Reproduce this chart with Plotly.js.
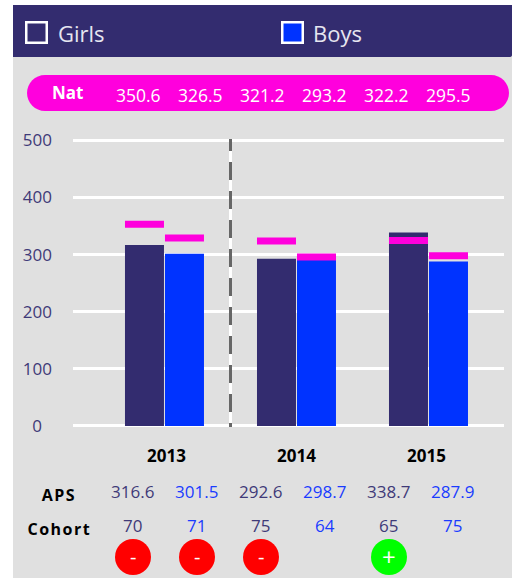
<!DOCTYPE html>
<html><head><meta charset="utf-8">
<script src="https://cdn.plot.ly/plotly-3.0.1.min.js"></script>
<style>html,body{margin:0;padding:0;background:#fff}#c{width:512px;height:579px}</style>
</head><body><div id="c"></div>
<script>
const years = ['2013','2014','2015'];
const girlsAPS = [316.6, 292.6, 338.7];
const boysAPS = [301.5, 298.7, 287.9];
const girlsNat = [350.6, 321.2, 322.2];
const boysNat = [326.5, 293.2, 295.5];
const natLabels = ['350.6','326.5','321.2','293.2','322.2','295.5'];
const apsLabels = ['316.6','301.5','292.6','298.7','338.7','287.9'];
const cohortLabels = ['70','71','75','64','65','75'];
const signs = ['-','-','-','','+',''];
const yTicks = [0,100,200,300,400,500];

const W=512,H=579;
const px=x=>x/W, py=y=>1-y/H;
const NAVY='#332c6f', BLUE='#0033ff', MAG='#ff00dd', BG='#e0e0e0';
const TXTN='#3f3a78', TXTB='#1a3cff';
const FONT='"Open Sans", "Noto Sans", sans-serif';
const NAT_THICK=12.3, NAT_SHIFT=2.5;

const bar=(name,y,color,group)=>({type:'bar',name,x:years,y,offsetgroup:group,marker:{color,line:{width:0}},hoverinfo:'skip'});
const nat=(name,vals,group)=>({type:'bar',name,x:years,y:vals.map(()=>NAT_THICK),
  base:vals.map(v=>v+NAT_SHIFT-NAT_THICK/2),offsetgroup:group,marker:{color:MAG,line:{width:0}},hoverinfo:'skip'});
const data=[bar('Girls',girlsAPS,NAVY,'g'),bar('Boys',boysAPS,BLUE,'b'),nat('Nat girls',girlsNat,'g'),nat('Nat boys',boysNat,'b')];

const rect=(x0,y0,x1,y1,fill,line,lw)=>({type:'rect',xref:'paper',yref:'paper',x0:px(x0),x1:px(x1),y0:py(y0),y1:py(y1),
  fillcolor:fill,line:{color:line||fill,width:lw||0},layer:'below'});
const P=(x,y)=>`${px(x)},${py(y)}`;
const pill=(x0,y0,x1,y1)=>{const r=(y1-y0)/2;return {type:'path',xref:'paper',yref:'paper',layer:'below',fillcolor:MAG,line:{width:0},
  path:`M${P(x0+r,y0)} L${P(x1-r,y0)} C${P(x1-r*.45,y0)} ${P(x1,y0+r*.45)} ${P(x1,y0+r)} C${P(x1,y1-r*.45)} ${P(x1-r*.45,y1)} ${P(x1-r,y1)} L${P(x0+r,y1)} C${P(x0+r*.45,y1)} ${P(x0,y1-r*.45)} ${P(x0,y1-r)} C${P(x0,y0+r*.45)} ${P(x0+r*.45,y0)} ${P(x0+r,y0)} Z`}};
const header={type:'path',xref:'paper',yref:'paper',layer:'below',fillcolor:NAVY,line:{width:0},
  path:`M${P(13,5)} L${P(512,5)} L${P(512,55)} Q${P(512,57)} ${P(509,57)} L${P(13,57)} Z`};
const vline=(color,dash)=>({type:'line',xref:'paper',yref:'paper',x0:px(230.5),x1:px(230.5),y0:py(139),y1:py(427),
  line:{color,width:3,dash},layer:'above'});
const circle=(cx,cy,r,fill)=>({type:'circle',xref:'paper',yref:'paper',x0:px(cx-r),x1:px(cx+r),y0:py(cy-r),y1:py(cy+r),fillcolor:fill,line:{width:0},layer:'above'});

const shapes=[rect(13,5,512,578,BG),header,pill(27,75,509,111),
  rect(26.25,22.25,46.75,42.75,NAVY,'#fff',2.5),rect(282.25,22.25,302.75,42.75,BLUE,'#fff',2.5),
  vline('#fff','solid'),vline('#666','12px,11px,'+'18px,11px,'.repeat(9)+'18px,400px')];

const note=(text,x,y,size,color,bold,anchor)=>({text,xref:'paper',yref:'paper',x:px(x),y:py(y),xanchor:anchor||'center',yanchor:'middle',
  showarrow:false,font:{family:FONT,size,color,weight:bold?700:400}});
const anns=[
  note('Girls',56,33,22,'#e6e6f0',false,'left'),
  note('Boys',311,33,22,'#e6e6f0',false,'left'),
  note('Nat',67,92.5,17,'#fff',true),
  note('APS',59,495,16,'#000',true),
  note('Cohort',59,529,16,'#000',true)
];
const yearX=[166,296,426];
years.forEach((t,i)=>anns.push(note(t,yearX[i],455,17,'#000',true)));
natLabels.forEach((t,i)=>anns.push(note(t,138+62*i,95,17.5,'#fff')));
apsLabels.forEach((t,i)=>anns.push(note(t,132.5+64*i,491,17,i%2?TXTB:TXTN)));
cohortLabels.forEach((t,i)=>anns.push(note(t,132.5+64*i,525,17,i%2?TXTB:TXTN)));
signs.forEach((s,i)=>{ if(!s) return;
  shapes.push(circle(133+64*i,557,18,s==='+'?'#00ff00':'#ff0000'));
  anns.push(note(s,133+64*i,556.5,s==='+'?24:20,'#fff'));
});

const layout={width:W,height:H,margin:{l:0,r:0,t:0,b:0,pad:0},paper_bgcolor:'#fff',plot_bgcolor:'rgba(0,0,0,0)',
  showlegend:false,barmode:'group',bargap:0.394,bargroupgap:0.025,
  xaxis:{type:'category',domain:[px(73),px(504)],range:[-0.693,2.572],showgrid:false,zeroline:false,showline:false,
    ticks:'',showticklabels:false},
  yaxis:{domain:[py(426.5),py(138.04)],range:[-1,504],tickvals:yTicks,showgrid:true,gridcolor:'#fff',gridwidth:3,
    zeroline:true,zerolinecolor:'#fff',zerolinewidth:3,showline:false,
    ticks:'',ticklabelstandoff:20,tickfont:{family:FONT,size:17,color:TXTN}},
  shapes,annotations:anns,font:{family:FONT},hovermode:false};
Plotly.newPlot('c',data,layout,{staticPlot:true,displayModeBar:false}).then(()=>{
  document.querySelectorAll('.annotation-text').forEach(t=>{
    if(['APS','Cohort'].includes(t.textContent)) t.style.letterSpacing='1.5px';
  });
  document.querySelectorAll('.ytick text').forEach(t=>{
    if(t.textContent==='0') t.setAttribute('x',parseFloat(t.getAttribute('x'))-10);
  });
});
</script></body></html>
